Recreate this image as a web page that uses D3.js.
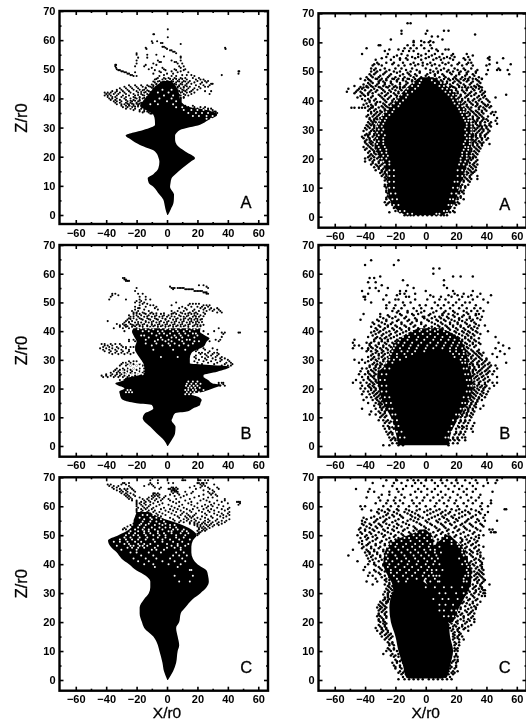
<!DOCTYPE html>
<html>
<head>
<meta charset="utf-8">
<title></title>
<script src="https://cdn.jsdelivr.net/npm/d3@7"></script>
<style>
	html, body { margin: 0; padding: 0; background: #fff; overflow: hidden; }
	svg { display: block; filter: blur(0.35px); }
	text { font-family: "Liberation Sans", Arial, sans-serif; fill: #000; }
</style>
</head>
<body>
<div id="plot"></div>
<script type="text/javascript">

var xTicks = [-60, -40, -20, 0, 20, 40, 60];
var xMinor = [-50, -30, -10, 10, 30, 50];
var yTicks = [0, 10, 20, 30, 40, 50, 60, 70];
var yMinor = [5, 15, 25, 35, 45, 55, 65];

// solid part of each plume: [z, left x, right x]
var solidLeftA = [[0,0.2,0.6],[2,-1,2.5],[4,-1.8,4.2],[5.2,-2.4,4.5],[7,-5,4.6],[9.7,-9,2],[11,-12,2.3],[12.6,-12.7,3],[14,-9,5.5],[16,-5.7,10],[18.3,-5,15.5],[19.5,-5.5,18.4],[21.8,-7.9,12],[24,-17.8,6.5],[26,-24,5.3],[27.3,-27.2,5.3],[28.3,-22,6.5],[29.2,-15.6,8.5],[31,-7.9,21.7],[32.5,-8,27],[34.4,-9,33],[36,-14,26],[37.3,-17.8,13],[39.6,-15,8.6],[41.5,-12,8],[44,-8,6],[46,-3,3]];
var solidLeftB = [[0,0.2,0.6],[2,-2,3],[4.4,-6.8,5.3],[6.7,-11,5.6],[9,-15.5,3],[9.6,-16,3.5],[11.4,-14.5,5.3],[12,-12,13],[13.1,-9,17],[14.3,-10,21.7],[14.9,-20,22],[16,-28.7,22.8],[17,-30.5,21],[18,-31,16],[18.9,-31.4,24],[20,-28,30],[21.3,-33,36],[21.8,-34,30],[23,-28,27],[23.6,-27.6,25],[24,-24,24],[24.7,-18,24],[25.9,-14.5,33],[27.6,-15,41.4],[28.8,-15.6,15],[30.6,-17.8,15],[32.3,-20,16],[33.4,-21,19],[34.6,-21,24],[36.3,-20,26],[37.5,-21,28],[38.5,-22,25],[39.8,-23,21.7],[41,-22,22]];
var solidLeftC = [[0,0.2,0.6],[3,-2,4],[6,-3,6],[10,-5,7],[12,-6,8],[15,-9,7],[18,-15,6],[20,-16.5,8],[23,-18,9],[25,-18,12],[28,-15,17],[30,-12,22],[32,-11,26],[34,-11,27.5],[36,-14,27],[37.8,-20,26],[40,-25,20],[42,-30,17],[44,-33,16],[46,-37,16],[48.2,-38.8,17],[50,-32,19.5],[52,-25,16],[54,-22,8],[55,-22,2],[56.5,-21,-6],[58,-20,-12]];
var solidRightA = [[0.5,-13,11],[2,-18,15],[5,-23,19],[10,-25,22],[15,-25,25],[20,-30,28],[25,-33,30],[30,-33,31],[33,-31,29],[36,-27,26],[40,-20,22],[43,-15,18],[46,-9,11],[48,-4,5]];
var solidRightB = [[0.3,-18,15],[5,-20,17],[10,-23,22],[15,-28,27],[20,-31,31],[25,-32,30],[28,-27,28],[32,-24,27],[36,-20,24],[39,-13,18],[41,-5,10]];
var solidRightC = [[0.5,-10,10],[1,-13,14],[5,-15,16],[10,-18,18],[15,-20,16],[20,-23,15],[25,-24,10],[30,-22,6],[33,-15,1],[35,-9,-4]];
// darker lobes of the lower right panel
var lobeRightC = [[20,12,18],[25,8,22],[30,4,27],[34,0,30],[38,-2,30],[42,-2,27],[46,4,24],[48,9,20],[50,13,16]];
var hazeRightC = [[28,-21,2],[33,-22,-2],[36,-25,0],[40,-28,2],[44,-27,4],[47,-24,5],[49,-17,5],[50.5,-9,3],[52,-4,0]];

// white flecks inside the solid part: [z, x, x, ...]
var holesLeftA = [[33,26,29],[34,17,21,26,30],[35,14,19,23,27],[36,11,16,20,24],[37,-24,-18,6,10],[38,-11,-6,4],[39,-8,0,6],[40,-5,3],[41,-2,4],[42,-6,1],[43,-3,3]];
var holesLeftB = [[18,12,14.5,17,19.5,22],[18.7,-27,-25,-23,13,15.5,18,21],[19.5,-26,-24,12,14,17,19,24],[20.3,14,16,18.5,21.5],[21,12.5,15,17.5,20],[21.7,13,16,19,22],[22.5,14,17,20],[25,-27,-23,-19,-16],[26,-29,-25,-21,-17],[27,-27,-22,-19],[28,-24,-20,-17],[29,-26,-21,-18],[31,-4,7],[33.5,-9,4,12],[35,-10,-3,2,8,14],[35.7,-14,-7,1,5,11,17],[36.5,-8,-1,3,10,18,21],[37,-14,-6,-3,1,8,13,15],[37.8,-12,-4,3,6,10,18],[38.5,-17,-15,-7,0,5,9,14,20],[39.2,-10,-5,-2,2,8,12,17,19],[40,-16,-12,-6,-3,4,7,11,15],[40.7,-19,-14,-9,-1,2,6,13,18],[41,-17,-11,-4,0,9,16,20]];
var holesLeftC = [[34,8,15],[36,5,17],[38,15,16],[39,-8,7],[40,-15,-9,1,9],[41,-19,-12,-3,5,12],[42,-22,-14,-7,2,10],[43,-17,-9,4,8,13],[44,-24,-20,-12,-4,6,11],[45,-30,-20,-10,-7,-2,9],[45.7,-26,-23,-19,-15,-8,0,5,9],[46.4,-33,-24,-22,-18,-16,-13,-6,3,7,12],[47,-28,-25,-19,-15,-11,0,7,14],[47.7,-35,-31,-26,-21,-17,-8,-3,4,10],[48.5,-31,-27,-23,-19,-14,-9,-3,2,8,15],[49.2,-28,-24,-18,-13,-6,-1,6,11],[50,-27,-22,-19,-14,-9,-5,-1,6,12],[50.7,-25,-21,-15,-11,-6,-2,3,9,14],[51.4,-24,-19,-15,-12,-6,1,3,10,13],[52,-21,-16,-12,-8,-3,4,7,11],[52.7,-19,-15,-10,-5,-1,2,6],[53.5,-18,-14,-8,-3,2,5],[54,-17,-12,-5,-1],[54.7,-16,-11,-7,-2],[55.5,-15,-10,-4],[56,-18,-11,-7],[57,-16,-13,-9]];
var holesRightA = [[47,-3,4],[46,-8,-4,6,10],[45,-9,-5,9,12],[44,-12,-7,11,14],[43,-13,-9,13,16],[42,-16,-12,15,18],[41,-18,-13,17,20],[40,-19,-15,18,21],[39,-21,-17,19,22],[38,-23,-18,21,24],[37,-25,-21,22,25],[36,-26,-22,23,25],[35,-28,-24,24,27],[34,-29,-26,25,28],[33,-30,-27,26,28],[32,-31,-28,27,30],[31,-32,-29,27,30],[30,-31,-28,26,30],[29,-32,-29,27,30],[28,-31,-27,26,29],[27,-32,-28,27,29],[26,-31,-28,26,29],[25,-32,-28,25,29],[24,-31,-27,26,28],[23,-30,-26,25,28],[22,-29,-26,24,27],[21,-28,-25,24,27],[20,-29,-26,23,27],[19,-28,-24,23,26],[18,-27,-24,22,25],[16,-24,-21,21,24],[14,-24,-21,21,24],[12,-24,-21,19,21],[10,-24,-21,18,21],[8,-23,-20,17,20],[6,-22,-19,16,18],[4,-21,-18,15,17],[2,-17,-14,12,14],[1,-12,-9,7,9]];
var holesRightB = [[40.5,-3,3,8],[40,-9,-4,1,6,12],[39,-12,-7,-2,3,8,14],[38,-15,-11,-5,1,6,11,16],[37,-17,-12,-6,-1,5,10,15,19],[36,-18,-14,-9,-3,3,8,13,18,22],[35,-20,-15,-10,-5,1,7,12,17,21],[34,-21,-17,-11,-6,0,5,11,16,20,24],[33,-22,-16,-12,-7,-1,16,20,25],[32,-23,-19,-14,-9,18,22,25],[31,-24,-19,-13,19,24],[30,-24,-21,-17,23,26],[29,-26,-22,24,26],[27,-27,-24,25,27],[25,-29,-26,26,28],[23,-30,-27,27,29],[21,-29,-26,28,30],[19,-29,-26,27,29],[17,-27,-24,25,28],[15,-26,-23,24,26],[13,-24,-22,23,25],[11,-22,-20,20,22],[9,-22,-19,18,21],[7,-21,-18,17,20],[5,-19,-16,15,17],[3,-17,-14,13,15]];
var holesRightC = [[51,-6,-2],[50,-8,-4,1],[49,-14,-11,-6,-1,4,14],[48,-21,-16,-10,-4,1,12,17],[47,-23,-19,-13,-7,-2,3,6,17,21],[46,-25,-20,-15,-9,-4,2,9,22],[45,-24,-18,-12,-7,-1,3,6,24],[44,-25,-22,-16,-10,-5,0,6,10,24],[43,-26,-20,-14,-8,-3,2,7,25],[42,-25,-19,-13,-7,-1,4,8,22],[41,-26,-22,-16,-11,-5,1,6,26],[40,-24,-18,-12,-6,0,5,9,24,27],[39,-25,-20,-14,-9,-3,2,28],[38,-23,-17,-11,-5,1,4,7,11,27],[37,-23,-19,-13,-7,-1,4,28],[36,-21,-15,-9,-2,2,5,7,9,26,28],[35,-19,-12,-6,0,6,25],[34,-18,-13,3,8,9,25,27],[32,0,6,12,17,24],[30,9,13,20,25],[28,5,11,15,21],[26,9,13,18],[24,9,12,17,20],[22,12,15,18]];

// scattered points: [z, x, x, ...]
var dotsLeftA = [
	[63.7,0.5],[62,-9,-8.5],[61,0.5],[59.6,-10,-6.5],[59,-9.5,-4,-3],[58.7,9],[57.7,-3,-2],[57.4,-1,-14,38.2],[57,0,-13.5,38.5],[56.5,2,3],[56,4,5],[55.5,6,-20],[55,-7,-20,-13],[54.4,-2,9],[54,-19,-13,9],[53,3,-6,9,-20],[52.5,-5,-4,5,6],[52,-9,-20,7,10],[51.5,-34,-33.5,-14,-7],[51,-34,-21,-15,8,11],[50.5,-33.5,-10,-3,9],[50,-33,-12,-2,5,12],[49.7,-32,-31,-8,-1,6,11],[49.3,-30,-29,-5,3,9,47,47.5],[49,-28,-27,-21,-4,7,14],[48.5,-26,-25,-9,0,4,47],[48,-24,-23,-2,10,13,16,36],[47.7,-22,-20,-5,3,6,18],[47,-6,-2,1,5,9,12,17,21],[46.5,-8,-3,4,8,13,19,22,24],[46,-5,0,3,7,11,15,20,25,27],[45.5,-8,-4,2,6,10,14,18,23,26],[45,-7,-2,1,5,9,13,16,22,29,30],[44.5,-25,-21,-17,-13,-9,-5,0,4,8,12,19,24,28],[44,-28,-24,-20,-16,-11,-7,-3,3,7,11,15,21,25,27],[43.5,-31,-27,-23,-19,-14,-9,-6,-1,5,9,14,18,22],[43,-33,-30,-26,-22,-18,-15,-8,-4,1,6,10,13,17,20],[42.5,-36,-33,-29,-25,-20,-12,-7,-2,2,8,12,16,25,29],[42,-41,-39,-37,-34,-31,-28,-24,-19,-15,-10,-5,0,4,9,13,18],[41.5,-40,-38,-35,-32,-27,-22,-17,-13,-8,-3,3,7,11,16,28],[41,-41,-39,-37,-33,-29,-25,-21,-15,-10,-6,-1,5,9,14],[40.5,-39,-36,-34,-30,-27,-22,-18,-13,-9,-4,1,7,11],[40,-38,-36,-33,-28,-24,-20,-16,-11,-7,-2,6,9],[39.5,-37,-34,-31,-27,-22,-18,-14,-10,7,9],[39,-35,-33,-30,-26,-23,-19,-15,-12,9],[38.5,-34,-31,-27,-24,-20,-17,-13],[38,-33,-30,-28,-25,-22,-19,-16],[37.5,-30,-27,-25,-22,-19,-16,12,17],[37,-29,-26,-23,14,18,22,25],[36.5,-27,-24,-21,-17,15,20,24,27,29],[36,-22,-18,-15,24,27,30],[35.5,-18,-15,-13,28,31,32],[35,32,33],
	[46.7,-7,-1,2,6,10],[45.8,-9,-6,-2,1,4,8,12],[44.8,-10,-7,-4,-1,2,6,10],[44.2,-12,-9,-6,-2,5,8,13],[43.7,-14,-10,-7,-3,0,3,7,11],[42.8,-16,-13,-9,-6,-1,3,7,11],[42.2,-17,-14,-11,-8,-4,6,10,15],[41.2,-19,-16,-12,-9,8,12],[40.2,-21,-18,-15,-12,9,11],[39.2,-24,-21,-18,-14,-11],[38.2,-26,-23,-20,-18],[37.2,-24,-21,-19],[35.2,-16,-12,22,26,30],[34.8,-11,-10]
];
var dotsLeftB = [
	[58.5,-29,-28],[58,-28,-27],[57.5,-27,-26,-25],[56,21,24],[55.5,2,26],[55,3,4,5,7,8,9,10,11,-20,27],[54.6,4,12,13,14,15,16,17],[54,-21,18,19,20,21,22,23],[53.5,24,25,26],[53,-36,-34,-19,-16,26,27],[52.5,-36,-32],[52,-37,-14,-18],[51,-38,-27,-18,-11,-14],[50.5,-20,-17],[50,-18,-15,6,-21],[49.5,-16,-13,15,17,19,21],[49,-18,-11,-9,3,14,24,26,28],[48.5,-21,-14,-7,10,16,20,23,27],[48,-18,-19,-8,8,12,22,25,29,33],[47.5,-21,-15,-6,13,18,24,28,31,34],[47,-23,-19,-12,3,7,11,17,21,26,30,35],[46.5,-22,-20,-16,-10,5,9,15,19,24,33,36],[46,-22,-18,-14,-9,-4,3,6,12,16,20,25],[45.5,-25,-20,-17,-12,-7,-2,1,8,14,18,22],[45,-24,-19,-15,-10,-5,0,5,11,17,21],[44.5,-25,-22,-18,-13,-8,-3,2,7,12,15,19],[44,-26,-20,-16,-11,-6,-1,4,9,14,18,22],[43.5,-27,-39,-23,-14,-9,-4,1,6,11,16,20],[43,-28,-25,-21,-17,-12,-7,-2,3,8,13,17,21],[42.5,-33,-29,-24,-19,-15,-10,-5,0,5,10,15,19],[42,-31,-28,-22,-18,-13,-8,-3,2,7,12,18,22],[41.5,-31,-27,-23,-16,-11,-6,-1,4,9,14,20],[41,-35,-29,-25,-20,34],[40,-28,-22,24,31],[39.5,48,47,38,36],[39,37,27],[38,36],[37,32,35,-25,-22],[36.5,-25,-21,28,34],[35.5,-43,-41,-37,-34,-31],[35,-41,-39,-36,-30],[34.5,-42,-38,-33,-27,-24,-29,-22],[34,-44,-40,-36,-32,-27,24,30],[33.5,-42,-38,-34,-30,-25,20,25,33],[33,-41,-37,-33,-29,-25,19,28],[32.5,-38,-34,-30,-26,-22,21,23,27,31,33],[32,-36,-32,-28,-24,22,25,30,34],[31.5,19,26,29,33],[31,18,23,27,32,36],[30.5,19,25,30,35,38],[30,21,26,32,36,40],[29.5,-25,-22,-20,18,24,29,35,41],[29,-29,-27,-24,20,27,33,39,42],[28.5,-30,-26,-22,-18,23,31,38,43],[28,-31,-27,-24,-20,-16,36,40,42],[27,-33,-29,-26,-22,-18,-15],[26.5,-34,-31,-28,-24,-20],[26,-35,-32,-29,-26,-23,-18,-15],[25.5,-37,-33,-31,-28,-24,-21,-16],[25,-40,-36,-33,-30,-27,-23,-19,-15],[24.5,-43,-40,-37,-34,-31,-28,-25,-21,-17],[24,-42,-39,-35,-32,-29,-26,-23,-18],[23,-31,-28,-25],[22,34,36,37],[21.5,34,37],[21,35,38],
	[46.2,-20,-15,-11,-7,-2,4,10,14,18],[45.2,-22,-13,-8,-3,3,9,13,19,24],[44.2,-24,-17,-12,-7,-1,6,11,16,20,23],[43.2,-25,-19,-14,-10,-5,0,5,10,15,19,23],[42.2,-27,-23,-20,-16,-10,-6,-1,4,9,14,20,24],[41.7,-26,-21,-18,-13,-9,-4,1,6,11,17,22]
];
var dotsLeftC = [
	[69,-11,-6,10,11,12,21,22,25,27],[68,-28,-29,-25,-11,-6,1,4,20,21,23,24,26],[67.5,-39,-37,-30,-27,-12,-10,22,24,31],[67,-38,-35,-32,-15,-9,-25,18,23,25],[66.5,-36,-33,-24,-8,-4,3,4,6,15,22,27,33],[66,-35,-31,-28,-26,-23,-5,1,2,4,5,7,19,28,34],[65.5,-33,-30,-27,-22,3,4,5,6,24,30],[65,-31,-29,-26,-21,3,5,6,7,12,17,27,31],[64.5,-30,-27,-24,-9,-8,-6,4,7,16,28,30],[64,-28,-26,-22,-9,-7,-5,2,8,13,24,29,32],[63.5,-27,-25,-21,-10,-8,-6,-1,5,11,21,33],[63,-26,-24,-18,-12,-9,-5,-2,9,18,27,30],[62.5,-23,-25,-16,-13,-10,-7,-3,1,6,15,24,38],[62,-23,-20,-15,-12,-8,-4,2,12,22,26,33,38],[61.5,-20,-17,-14,-11,-6,4,8,16,28,36,46,47,48],[61,-20,-18,-15,-9,-3,6,14,20,31,40,48],[60.5,-20,-17,-14,-11,-5,1,10,16,25,29,34,47],[60,-20,-16,-12,-7,3,8,18,23,27,30,37],[59.5,-19,-15,-13,-9,-2,5,11,20,26,33,41],[59,-20,-17,-14,-10,-4,2,7,13,17,24,29,36,40],[58.5,-20,-16,-12,-8,-1,4,9,15,21,27,31,38],[58,-20,-17,-13,-9,-5,1,6,11,16,23,28,34,41],[57.5,-19,-15,-11,-7,-3,3,10,13,19,25,31,36,40],[57,-18,-14,-10,-6,-1,5,9,14,18,26,33,37,41],[56.5,-20,-16,-12,-8,-4,7,12,15,17,23,29,35,39],[56,-18,-14,-10,-6,2,8,13,16,20,25,30,37],[55.5,-20,-17,-12,-8,-3,4,11,14,18,22,27,33,41],[55,-19,5,9,13,16,19,25,28,32,36,39],[54.5,-21,-16,8,11,15,18,21,24,27,30,34,38],[54,-22,15,18,20,23,25,29,33,36],[53.5,-24,18,20,22,26,28,31,34],[53,-26,-23,20,22,24,27,30],[52.5,-28,21,23,25,28],[52,-29,-27,21,24,26],[51.5,20,23,25],[51,21,22],[50.5,20,21],[50,20]
];
var dotsRightA = [
	[66.6,-12,-10],[64,-16,1,12,15],[63,-16,0],[62.7,32.5],[62,4,8],[61,-23,11],[60.5,-8,-3,3],[60,-8,2,-1,5],[59,-31,-30,-12,-3,3,-8],[58,-39,-14,-10,-6,4,-1],[57.5,-24,-18,7,13,15],[57,-27,-15,-11,-8,2,8],[56,-42,-25,-16,-5,0,6,11,18,27],[55.5,-19,-12,-3,4,17,31],[55,-26,-21,-9,-5,2,9,14,19,28,42],[54.5,-29,-17,-13,-7,0,7,12,16,25,41,51],[54,-33,-23,-17,-12,-3,5,10,18,26,29,42],[53,-32,-26,-21,-15,-8,-2,3,11,15,22,28,30,47],[52.5,-34,-31,-22,-10,-5,1,6,13,21,27,42,56],[52,-35,-29,-18,-14,-7,-2,4,9,17,24,31,40],[51,-36,-33,-27,-20,-16,-9,0,7,12,19,25,30,48],[50.5,-34,-30,-24,-13,-6,3,10,15,21,26,34,41,47,49,54],[50,-36,-32,-26,-21,-17,-10,-4,5,8,14,18,23,28,33],[49,-37,-34,-28,-23,-15,-11,-7,1,6,11,17,22,27,31,40,55],[48,-39,-35,-31,-25,-20,-14,-8,-3,2,9,13,19,24,29,35],[47.5,-43,-33,-29,-22,-18,-12,4,7,15,20,26,31,37],[47,-40,-37,-30,-26,-19,-15,-9,-5,0,10,16,21,25,28,34],[46,-38,-35,-31,-27,-23,-17,-12,-7,6,11,14,18,23,30,36],[45,-47,-39,-36,-33,-28,-24,-20,-14,-8,5,8,12,17,22,26,32,35],[44.5,-41,-38,-30,-25,-19,-15,-10,7,13,19,24,28,33,37],[44,-51,-44,-42,-34,-29,-22,-17,-12,9,15,20,27,31,35],[43,-52,-46,-43,-37,-33,-27,-23,-18,-13,8,12,16,21,25,30,36,39],[42,-41,-38,-31,-26,-20,-15,-11,10,14,18,23,28,32,37,53],[41,-45,-36,-29,-24,-19,-16,11,15,19,22,26,34,38,46],[40,-40,-37,-34,-27,-22,-18,16,20,24,28,31,35,41],[39,-39,-33,-28,-23,-18,-15,15,18,21,25,30,34,38],[38,-38,-35,-29,-26,-21,-17,16,20,23,27,33,36,40,43],[37.5,-49,-47,-44,-42,-40,-36],[37,-37,-33,-27,-24,-20,18,22,26,29,35,39],[36,-36,-32,-29,-23,22,25,28,31,34,37,44,46],[35,-38,-34,-31,-28,-25,23,26,29,33,36,45],[34,-37,-33,-30,-27,24,27,31,35,38,47],[33,-36,-34,-29,-27,26,28,32,34,37,41,46],[32,-37,-35,-31,-28,28,30,33,36,42,47],[31,-38,-34,-30,-28,28,31,35,37,40,43],[30,-39,-35,-32,-29,28,30,33,36,38,41],[29,-37,-33,-30,27,30,34,37,41],[28,-40,-38,-34,-30,28,31,33,36,39],[27,-41,-37,-33,-29,27,30,34,37,41],[26,-40,-36,-32,-29,28,32,35],[25,-39,-36,-33,-30,27,31,34,37,42],[24,-41,-37,-33,-29,26,29,32,35],[23,-40,-35,-31,-27,27,30,34],[22,-38,-34,-31,-28,26,29,33],[21,-37,-35,-30,-26,26,28,32],[20,-40,-36,-32,-28,26,29,31],[19,-40,-35,-31,-27,25,28,33],[18,-36,-33,-29,-25,24,27,31,34],[17,-34,-31,-27,-23,23,26,30,33],[16,-33,-29,-26,-22,22,25,29,33],[15,-30,-27,-23,21,24,28,31],[14,-29,-26,-22,21,25,29,34],[13,-26,-24,21,24,27,30,34],[12,-25,-23,20,22,25,29],[11,-27,-25,20,24,28],[10,-26,-24,19,23,26],[9,-26,-24,20,23,25],[8,-25,-23,20,22,25],[7,-25,-23,18,20,23],[6,-26,-23,-21,18,21,25],[5,-27,-24,-20,16,19,21],[4,-26,-22,-19,15,17,20],[3,-21,-17,13,16,19],[2,-20,-18,-15,12,15,18],[1.5,-24,-17,-13,14,16,19],[0.5,-14,-12,-10,-8,-5,-2,1,4,7,10,12,14],
	[49.5,-33,-27,-19,-12,-4,3,8,16,22,27,33],[48.5,-36,-30,-24,-17,-10,-6,0,6,12,20,26,32],[47.4,-38,-32,-26,-21,-15,-11,-7,7,12,15,18,23,28,33,37],[46.5,-36,-31,-28,-23,-19,-13,-9,11,14,19,22,27,31,35],[45.5,-41,-37,-32,-27,-22,-17,-13,9,13,16,21,25,29,34],[44.6,-43,-39,-35,-31,-26,-21,-17,-14,16,18,22,26,30,33,36],[43.5,-45,-40,-36,-32,-28,-24,-20,-16,17,20,24,27,32,37],[42.5,-47,-42,-38,-35,-29,-25,-21,-18,19,21,26,29,33,38],[41.5,-43,-40,-35,-30,-27,-23,-19,20,23,27,30,35,39],[40.5,-42,-38,-33,-28,-25,-21,21,24,28,32,36,40],[39.5,-37,-32,-30,-26,-22,23,26,29,33,37,42],[38.5,-41,-36,-33,-27,-24,24,27,31,34,39,41],[37.6,-35,-31,-28,-25,25,28,30,35,38,42],[36.5,-38,-34,-30,-27,26,30,33,37,40],[35.5,-36,-33,-30,27,29,32,35,38,43],[34.5,-39,-35,-32,28,31,34,37,41],[33.5,-37,-34,-32,29,31,34,38,40],[32.5,-38,-35,-33,31,33,36,39,43],[31.5,-39,-36,-34,31,34,36,39,42],[30.5,-40,-37,-34,32,34,37,40],[29.5,-41,-36,-34,32,35,38,42],[28.5,-39,-37,-34,31,33,36,40],[27.5,-42,-38,-35,31,33,36,39],[26.5,-39,-37,-34,31,33,37,40],[25.5,-40,-37,-35,31,33,36,38],[24.5,-38,-35,-33,31,34,37],[23.5,-39,-36,-33,30,33,36],[22.5,-37,-34,-32,30,32,35],[21.5,-36,-33,-31,29,31,34],[20.5,-38,-34,-31,29,31,33],[19.5,-37,-34,-30,28,30,34],[18.5,-35,-31,-28,27,29,32],[17.5,-32,-30,-27,26,29,32],[16.5,-31,-28,-26,26,28,31],[15.5,-29,-27,25,27,30,32],[14.5,-28,-26,25,27,30],[13.5,-27,-25,24,26,29],[12.5,-27,-25,23,25,28],[10.5,-27,-25,23,26],[8.5,-26,-24,22,24],[6.5,-26,-24,21,23],[4.5,-25,-22,19,22]
];
var dotsRightB = [
	[64.7,-36,-18],[63,-40,-21],[61.8,5,9],[60,5],[59,-30,18,23,31],[58.5,-37,-34],[57.7,-15,12],[57,-33,-38],[56,-29,-12,12],[55,-33,-25,-8,14,-37],[54,-42,-31,-17,-13,0,18,31],[53,-38,-14,-17,-7,19,25,36],[52.5,-26,-19,3,15,21,30,43],[52,-41,-40,-13,-11,5,10,17,24,28,34],[51,-40,-28,-20,-18,-7,1,9,13,22,31,38],[50,-36,-24,-15,-10,6,15,20,26,29,41],[49,-26,-20,-14,-4,0,8,12,18,24,33],[48,-26,-21,-16,-8,-3,4,10,16,22,27,32,36],[47,-22,-18,-12,-6,-1,7,13,18,25,30,34,38],[46,-41,-30,-17,-9,-5,3,11,15,21,28,33,35],[45,-30,-24,-20,-13,-2,-1,6,9,14,19,24,29,37],[44,-43,-32,-26,-18,-11,-6,1,7,12,17,22,27,31,36],[43,-35,-29,-22,-16,-9,-3,4,10,16,21,26,32],[42,-31,-25,-20,-14,-7,0,8,13,18,23,29,35,39],[41,-33,-27,-22,-17,-11,-5,2,6,11,15,20,25,30,34],[40,-34,-30,-24,-19,-13,-8,-2,3,9,13,19,24,28,33,41],[39,-33,-28,-23,-17,-10,-4,1,6,12,17,22,27,31,36],[38,-38,-32,-26,-21,-15,-12,-7,0,5,10,16,21,26,30,46],[37,-47,-34,-29,-25,-19,-14,-9,-3,3,9,14,19,24,28,32],[36,-48,-39,-36,-31,-27,-22,-16,-11,-5,2,7,12,18,23,26,31,35,48],[35,-47,-44,-37,-33,-28,-24,-18,-13,-8,-2,5,11,16,21,25,29,33,51],[34,-48,-42,-38,-35,-30,-26,-20,-15,-9,-4,3,8,14,20,24,28,46,55],[33,-39,-36,-32,-28,-23,-17,-12,-6,1,6,12,17,22,27,31,34,49],[32,-35,-31,-27,-22,-16,-10,-4,4,10,15,20,24,29,33,36,44,52],[31,-38,-34,-29,-25,-20,-14,-8,7,13,18,23,26,30,35,47],[30,-47,-42,-36,-33,-28,-24,-18,-11,9,17,22,28,32,37,40],[29,-44,-40,-34,-30,-26,-21,22,26,30,34,38,42,53],[28,-37,-33,-30,-27,24,27,31,35,39,43,46],[27,-42,-39,-34,-31,26,29,32,37,41,47],[26,-43,-38,-35,-31,28,31,35,39,42,45],[25,-44,-40,-37,-33,28,32,36,40,44],[24,-42,-38,-35,-31,30,33,37,41,47],[23,-46,-41,-37,-33,30,34,38,42],[22,-48,-43,-39,-35,-32,31,35,39,44,47],[21,-42,-38,-35,-31,30,34,37,40,45],[20,-43,-40,-36,-33,31,34,38,42],[19,-41,-38,-34,-31,30,33,37,41],[18,-42,-37,-33,-30,29,32,36,40],[17,-39,-36,-32,-29,29,31,35,39],[16,-41,-35,-32,-28,27,30,34,37],[15,-38,-33,-30,-27,27,30,33],[14,-34,-30,-27,26,29,32,38],[13,-42,-33,-29,-26,25,28,31,36],[12,-36,-31,-27,25,28,32],[11,-37,-33,-28,24,27,31],[10,-30,-27,23,26,30],[9,-31,-28,-25,23,26,29],[8,-27,-24,22,25,28,32],[7,-28,-25,21,24,27,31],[6,-27,-24,-21,20,24,27,30],[5,-26,-23,20,23,26,31],[4,-25,-22,19,22,25],[3,-24,-21,18,21,24,26],[2,-23,-20,-18,16,19,22,26],[1,-22,-19,-17,15,18,21],[0.3,-28,-24,-18,-15,15],
	[46.5,-19,-12,-3,5,12,19,27],[45.5,-25,-16,-8,2,11,18,25,33],[44.5,-28,-22,-14,-7,-1,4,10,15,22,29,34],[43.5,-31,-26,-19,-12,-6,2,8,13,19,24,30],[42.5,-34,-27,-23,-16,-10,-3,6,11,16,21,27,33],[41.5,-36,-30,-25,-19,-13,-8,-1,4,9,14,18,23,28,32],[40.5,-32,-28,-21,-16,-11,-5,1,7,11,16,21,26,31],[39.5,-36,-31,-26,-20,-15,-7,-2,4,10,15,20,25,29,34],[38.5,-35,-29,-24,-19,-13,-8,-1,3,8,14,19,24,28,32],[37.5,-33,-30,-27,-23,-17,-11,-5,1,7,12,17,22,26,30,35],[36.5,-34,-29,-25,-20,-14,-9,-3,4,10,15,20,24,29,33],[35.5,-37,-31,-26,-21,-16,-11,-6,0,6,13,18,22,27,31,36],[34.5,-36,-32,-28,-23,-18,-13,-7,-1,5,10,15,19,23,27,32],[33.5,-38,-33,-29,-25,-20,-15,-10,-4,2,9,14,18,22,26,30,35],[32.5,-33,-29,-25,-20,-14,-9,-6,24,28,32,35,38],[31.5,-36,-31,-28,-23,-18,-12,-9,25,28,31,34,37],[30.5,-35,-31,-27,-22,-19,27,30,33,36,40],[29.5,-38,-32,-28,-24,-21,28,31,35,39],[28.5,-35,-32,-29,29,31,34,37,41],[27.5,-37,-33,-30,29,32,35,38,42],[26.5,-36,-33,31,33,36,40],[25.5,-38,-34,31,34,37,41],[24.5,-36,-34,31,34,38],[23.5,-38,-34,32,35,39],[22.5,-36,-33,32,36,41],[21.5,-37,-34,32,35,39],[20.5,-37,-34,32,36,39],[19.5,-36,-33,32,35,38],[18.5,-35,-32,31,34,38],[17.5,-34,-31,30,33,37],[16.5,-33,-30,29,32,35],[15.5,-31,-29,28,31,34],[14.5,-31,-29,27,30,33],[13.5,-30,-28,27,29,33],[12.5,-29,-26,26,28,31],[11.5,-30,-27,25,27,30],[10.5,-29,-26,24,27,29],[8.5,-26,-23,23,26],[6.5,-24,-22,22,25],[4.5,-24,-22,20,23],[2.5,-22,-20,18,21]
];
var dotsRightC = [
	[69,-26,-19,-12,-8,-5,0,4,10,14,20,26,33,47],[68,-35,-21,-16,-7,-3,6,11,17,21,29,34,41,46],[67,-28,-22,-13,-9,-1,8,13,19,24,31,38],[66,-46,-37,-19,-15,-5,1,6,15,22,27,33],[65,-38,-34,-24,-18,-7,-3,4,10,18,25,31,44],[64,-29,-24,-16,-10,1,8,13,21,27,36],[63,-39,-31,-20,-14,-6,-1,5,11,16,23,30,35],[62,-30,-25,-21,-17,-9,-2,3,9,15,20,28,33,43],[61,-33,-26,-20,-15,-8,-4,7,12,19,25,31,37,43],[60,-43,-40,-28,-23,-18,-11,-6,0,6,14,21,27,36,41],[59,-42,-31,-25,-19,-13,-4,3,9,17,22,30,37,52,53],[58,-32,-27,-21,-14,-9,-1,5,11,16,24,28,35,41],[57,-26,-22,-17,-10,-5,1,8,13,19,26,33,39],[56,-41,-36,-30,-24,-15,-7,-2,4,12,18,22,30,38],[55,-42,-33,-27,-20,-12,-8,0,7,15,21,27,35,39,47],[54,-42,-37,-31,-26,-19,-13,-4,3,10,16,24,29,36],[53,-39,-33,-29,-21,-16,-8,-1,6,12,20,25,31,38],[52,-44,-40,-35,-28,-22,-14,-6,2,9,15,22,27,34,42,44],[51,-43,-37,-31,-25,-18,-11,-3,5,11,18,25,32,43,45,46],[50,-45,-39,-33,-27,-20,-15,-8,0,7,13,20,28,35,38],[49,-43,-38,-32,-24,-18,-12,-4,3,11,16,23,30,35],[48,-42,-35,-29,-23,-16,-9,-2,5,24,29,34],[47,-42,-38,-33,-27,-21,-14,-7,1,26,31],[46,-41,-36,-30,-24,-18,-11,-3,4,27,33,38],[45,-48,-39,-34,-28,-22,-15,-8,-1,6,24,29,35],[44,-40,-37,-32,-26,-20,-13,-6,2,27,31,36],[43,-51,-39,-35,-30,-24,-17,-10,-3,5,25,30,36],[42,-38,-33,-27,-21,-15,-7,0,27,33,38],[41,-45,-37,-31,-25,-19,-12,-5,3,30,36],[40,-38,-34,-28,-23,-16,-10,-2,31,37],[39,-40,-31,-26,-20,-14,-6,1,28,34,37],[38,-41,-34,-29,-22,-18,-11,-4,4,29,35,38],[37,-37,-31,-24,-20,-15,-8,3,30,34,37],[36,-38,-35,-27,-21,-16,-9,32,36],[35,-33,-26,-22,-17,33,38],[34,-39,-32,-26,-19,29,34,38],[33,-35,-27,-24,-20,26,31,36,42],[32,-24,-21,26,32,37],[31,-25,-22,3,18,25,28,33,38,39],[30,-25,-22,10,15,22,27,32,38,39],[29,-25,-23,8,14,20,25,31,37,39],[28,-24,-27,-22,10,16,21,29,34],[27,-30,-26,-25,14,20,25,31,36],[26,-31,-28,9,16,22,29,34],[25,-32,-29,-26,12,17,23,30,33],[24,-31,-28,14,18,26,31],[23,-31,-27,13,20,24,29,32],[22,-32,-30,-26,15,21,25,31],[21,-31,-28,12,18,23,28,32],[20,-30,-27,16,20,27,32],[19,-31,-27,15,19,24,30],[18,-33,-29,-26,16,22,26],[17,-32,-28,-25,17,21,28],[16,-30,-26,-23,18,23],[15,-29,-25,-22,18,21,24],[14,-27,-24,18,22,25],[13,-25,-22,19,22],[12,-24,-21,19,22],[11,-25,-21,19,21],[10,-26,-23,-19,19,21],[9,-28,-22,-18,20],[8,-21,-18,-15,19,21],[7,-20,-16,19,21],[6,-22,-19,-15,17,20],[5,-21,-17,-13,16,20],[4,-20,-16,-13,16,19],[3,-17,-14,15,18,21],[2,-16,-13,-10,12,15,18],[1,-15,-12,-9,-6,10,13,16],[0.3,-18,-14,-11,-8,-5,-2,2,5,8,11,14,17],
	[58.5,-36,-29,-24,-18,-11,-6,1,7,13,20,26,33],[57.5,-31,-25,-19,-12,-7,3,10,15,22,29,36],[56.5,-34,-28,-21,-16,-9,-4,6,11,17,24,31],[55.5,-39,-32,-26,-18,-10,-5,2,9,14,20,28,34],[54.5,-40,-34,-28,-22,-15,-6,1,8,13,19,26,33],[53.5,-41,-36,-30,-24,-18,-11,-3,4,11,17,23,30,37],[52.5,-43,-37,-32,-25,-19,-12,-7,0,7,13,19,26,33],[51.5,-40,-34,-27,-21,-15,-8,-1,8,14,21,29,36],[50.5,-42,-36,-29,-23,-16,-10,-5,3,10,15,23,31],[49.5,-40,-35,-28,-21,-14,-7,1,6,13,19,26,33],[48.5,-39,-33,-26,-20,-13,-6,1,8,24,27,32],[47.5,-44,-37,-30,-24,-17,-11,-4,3,8,23,28,33],[46.5,-39,-33,-27,-20,-14,-7,0,6,10,24,30,35],[45.5,-42,-36,-31,-25,-19,-12,-5,2,8,26,32],[44.5,-38,-34,-28,-23,-16,-10,-3,5,10,26,30,34],[43.5,-37,-32,-27,-21,-15,-8,-1,7,24,29,34],[42.5,-36,-30,-24,-19,-12,-5,2,6,27,31,36],[41.5,-35,-29,-23,-17,-10,-3,5,8,27,32,35],[40.5,-34,-27,-21,-14,-8,-1,4,29,33,37],[39.5,-33,-28,-23,-16,-11,-4,3,6,29,32,36],[38.5,-30,-25,-20,-13,-7,1,6,30,33,37],[37.5,-33,-27,-22,-16,-10,-5,1,30,32,36],[36.5,-30,-24,-19,-13,-7,1,29,33,35,38],[35.5,-29,-24,-19,-13,-8,30,34,37],[34.5,-27,-24,-20,-15,-10,29,32,35,39],[33.5,-24,-21,-17,26,29,34,37],[32.5,-25,-22,26,29,33,36],[31.5,-26,-23,7,13,22,24,27,31,35,37],[30.5,-27,-24,9,14,19,24,29,33,36],[29.5,-28,-25,11,16,22,26,30,35],[28.5,-27,-25,12,18,23,27,32],[27.5,-28,-25,12,17,22,28,33],[26.5,-29,-26,11,18,24,27,31],[25.5,-30,-27,13,15,20,26,32],[24.5,-30,-27,15,20,23,28,33],[23.5,-29,-26,15,18,22,27,30],[22.5,-31,-27,16,20,23,28],[21.5,-29,-26,16,19,25,30],[20.5,-31,-28,17,21,25,29],[19.5,-28,-26,17,21,26],[18.5,-30,-27,18,20,24,28],[17.5,-29,-26,18,21,25],[16.5,-29,-25,19,22],[15.5,-27,-24,19,22],[14.5,-26,-23,19,21],[12.5,-24,-22,20],[10.5,-24,-21,20],[8.5,-23,-20,20],[6.5,-19,-17,18,21],[4.5,-20,-17,17,20],[2.5,-18,-15,17,19]
];

var panels = [
	{x0: 59.5, x1: 268, top: 11, bottom: 224, zero: 215, solid: [solidLeftA], holes: holesLeftA, dots: dotsLeftA, name: 'A', r: 1.05, ylab: true},
	{x0: 318.5, x1: 526.5, top: 13.3, bottom: 227.7, zero: 216.7, solid: [solidRightA], holes: holesRightA, dots: dotsRightA, name: 'A', r: 1.25},
	{x0: 59.5, x1: 268, top: 245, bottom: 456.7, zero: 446, solid: [solidLeftB], holes: holesLeftB, dots: dotsLeftB, name: 'B', r: 1.05, ylab: true},
	{x0: 318.5, x1: 526.5, top: 245, bottom: 456.7, zero: 446, solid: [solidRightB], holes: holesRightB, dots: dotsRightB, name: 'B', r: 1.25},
	{x0: 59.5, x1: 268, top: 477.3, bottom: 690.7, zero: 680, solid: [solidLeftC], holes: holesLeftC, dots: dotsLeftC, name: 'C', r: 1.05, ylab: true, xlab: true},
	{x0: 318.5, x1: 526.5, top: 477.3, bottom: 690.7, zero: 680, solid: [solidRightC, lobeRightC, hazeRightC], holes: holesRightC, dots: dotsRightC, name: 'C', r: 1.25, xlab: true}
];

var svg = d3.select('#plot').append('svg')
	.attr('width', 526)
	.attr('height', 721);

svg.append('rect').attr('width', 526).attr('height', 721).attr('fill', '#fff');

function flatten(rows) {
	var out = [];
	rows.forEach(function(r) {
		r.slice(1).forEach(function(v) { out.push({x: v, z: r[0]}); });
	});
	return out;
}

panels.forEach(function(p) {

	var x = d3.scaleLinear().domain([-70.7, 66.4]).range([p.x0, p.x1]);
	// each panel has its own zero line, 70 sits at the top of the frame
	var y = d3.scaleLinear().domain([0, 70]).range([p.zero, p.top]);

	var g = svg.append('g');

	var area = d3.area()
		.y(function(d) { return y(d[0]); })
		.x0(function(d) { return x(d[1]); })
		.x1(function(d) { return x(d[2]); })
		.curve(d3.curveMonotoneY);

	g.selectAll('.solid').data(p.solid)
		.enter().append('path').classed('solid', true)
		.attr('d', area)
		.attr('fill', '#000');

	g.selectAll('.dot').data(flatten(p.dots))
		.enter().append('circle').classed('dot', true)
		.attr('cx', function(d) { return x(d.x); })
		.attr('cy', function(d) { return y(d.z); })
		.attr('r', p.r)
		.attr('fill', '#000');

	g.selectAll('.hole').data(flatten(p.holes))
		.enter().append('circle').classed('hole', true)
		.attr('cx', function(d) { return x(d.x); })
		.attr('cy', function(d) { return y(d.z); })
		.attr('r', 1)
		.attr('fill', '#fff');

	function style(a) {
		a.selectAll('.domain').remove();
		a.selectAll('line').attr('stroke', '#000').attr('stroke-width', 1.6);
		a.selectAll('text').attr('font-size', 11).attr('font-weight', 'bold').attr('fill', '#000').attr('font-family', 'Liberation Sans');
	}

	svg.append('g').attr('transform', 'translate(0,' + p.bottom + ')')
		.call(d3.axisBottom(x).tickValues(xTicks).tickSizeInner(-4).tickSizeOuter(0).tickPadding(5)).call(style);
	svg.append('g').attr('transform', 'translate(0,' + p.bottom + ')')
		.call(d3.axisBottom(x).tickValues(xMinor).tickFormat('').tickSizeInner(-2).tickSizeOuter(0)).call(style);
	svg.append('g').attr('transform', 'translate(0,' + p.top + ')')
		.call(d3.axisTop(x).tickValues(xTicks).tickFormat('').tickSizeInner(-4).tickSizeOuter(0)).call(style);
	svg.append('g').attr('transform', 'translate(0,' + p.top + ')')
		.call(d3.axisTop(x).tickValues(xMinor).tickFormat('').tickSizeInner(-2).tickSizeOuter(0)).call(style);

	svg.append('g').attr('transform', 'translate(' + p.x0 + ',0)')
		.call(d3.axisLeft(y).tickValues(yTicks).tickFormat(d3.format('d')).tickSizeInner(-4).tickSizeOuter(0).tickPadding(4)).call(style);
	svg.append('g').attr('transform', 'translate(' + p.x0 + ',0)')
		.call(d3.axisLeft(y).tickValues(yMinor).tickFormat('').tickSizeInner(-2).tickSizeOuter(0)).call(style);
	svg.append('g').attr('transform', 'translate(' + p.x1 + ',0)')
		.call(d3.axisRight(y).tickValues(yTicks).tickFormat('').tickSizeInner(-4).tickSizeOuter(0)).call(style);
	svg.append('g').attr('transform', 'translate(' + p.x1 + ',0)')
		.call(d3.axisRight(y).tickValues(yMinor).tickFormat('').tickSizeInner(-2).tickSizeOuter(0)).call(style);

	svg.append('rect')
		.attr('x', p.x0).attr('y', p.top)
		.attr('width', p.x1 - p.x0).attr('height', p.bottom - p.top)
		.attr('fill', 'none').attr('stroke', '#000').attr('stroke-width', 2.4);

	svg.append('text')
		.attr('x', x(52)).attr('y', y(2.4))
		.attr('text-anchor', 'middle')
		.attr('font-size', 16.5)
		.attr('stroke', '#000').attr('stroke-width', 0.3)
		.text(p.name);

	if (p.ylab) {
		svg.append('text')
			.attr('transform', 'translate(27,' + (y(35) + 5) + ') rotate(-90)')
			.attr('text-anchor', 'middle')
			.attr('font-size', 16.5)
			.attr('stroke', '#000').attr('stroke-width', 0.3)
			.text('Z/r0');
	}

	if (p.xlab) {
		svg.append('text')
			.attr('x', x(0)).attr('y', 717.5)
			.attr('text-anchor', 'middle')
			.attr('font-size', 15.5)
			.attr('stroke', '#000').attr('stroke-width', 0.3)
			.text('X/r0');
	}
});

</script>
</body>
</html>
